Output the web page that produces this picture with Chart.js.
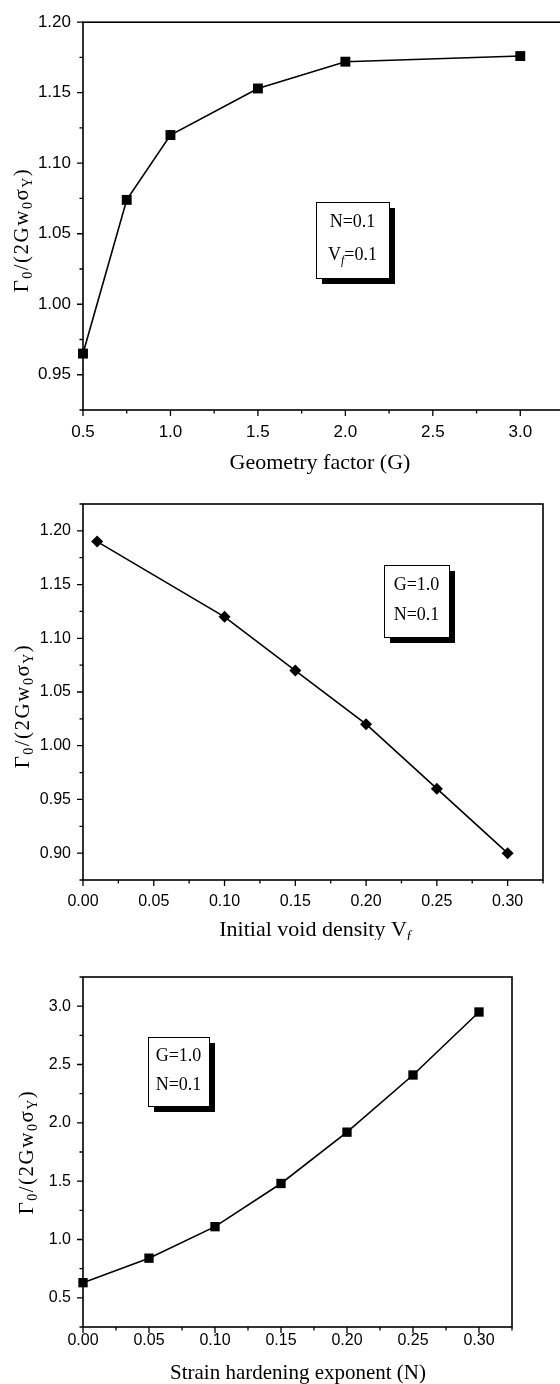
<!DOCTYPE html>
<html>
<head>
<meta charset="utf-8">
<script src="https://cdn.jsdelivr.net/npm/chart.js@4"></script>
<style>
  html, body { margin: 0; padding: 0; background: #fff; }
  body { width: 560px; height: 1384px; overflow: hidden; position: relative; }
  canvas { position: absolute; left: 0; }
</style>
</head>
<body>
<canvas id="c1" width="576" height="480" style="top:0"></canvas>
<canvas id="c2" width="560" height="460" style="top:480px"></canvas>
<canvas id="c3" width="560" height="444" style="top:940px"></canvas>
<script>
// (a) geometry factor
const geomG = [0.5, 0.75, 1.0, 1.5, 2.0, 3.0];
const geomGamma = [0.965, 1.074, 1.12, 1.153, 1.172, 1.176];
// (b) initial void density
const voidVf = [0.01, 0.10, 0.15, 0.20, 0.25, 0.30];
const voidGamma = [1.19, 1.12, 1.07, 1.02, 0.96, 0.90];
// (c) strain hardening exponent
const hardN = [0.00, 0.05, 0.10, 0.15, 0.20, 0.25, 0.30];
const hardGamma = [0.63, 0.84, 1.11, 1.48, 1.92, 2.41, 2.95];

const serif = '"Liberation Serif", "Times New Roman", serif';
const sans = '"Liberation Sans", Arial, sans-serif';

const yTitle = [
  {t: 'Γ'}, {t: '0', sub: true}, {t: '/(2G'}, {t: 'w'}, {t: '0', sub: true},
  {t: 'σ'}, {t: 'Y', sub: true}, {t: ')'}
];

function isMajor(v, major) {
  const r = v / major;
  return Math.abs(r - Math.round(r)) < 1e-6;
}

function richFont(p, size) {
  return (p.it ? 'italic ' : '') + (p.sub ? Math.round(size * 0.65) : size) + 'px ' + serif;
}

function drawRich(ctx, parts, cx, cy, size, spacing) {
  ctx.letterSpacing = (spacing || 0) + 'px';
  let total = 0;
  const widths = parts.map(p => {
    ctx.font = richFont(p, size);
    const w = ctx.measureText(p.t).width;
    total += w;
    return w;
  });
  let x = cx - total / 2;
  ctx.textBaseline = 'middle';
  ctx.textAlign = 'left';
  parts.forEach((p, i) => {
    ctx.font = richFont(p, size);
    ctx.fillText(p.t, x, cy + (p.sub ? size * 0.32 : 0));
    x += widths[i];
  });
  ctx.letterSpacing = '0px';
}

// frame, tick marks, titles and the parameter box
const decorPlugin = {
  id: 'decor',
  beforeDatasetsDraw(chart) {
    const ctx = chart.ctx, a = chart.chartArea;
    const o = chart.options.plugins.decor;
    const sx = chart.scales.x, sy = chart.scales.y;
    ctx.save();
    ctx.strokeStyle = '#000';
    ctx.lineWidth = 1.6;
    ctx.strokeRect(a.left, a.top, a.right - a.left, a.bottom - a.top);
    ctx.lineWidth = 1.3;
    ctx.beginPath();
    sx.ticks.forEach(t => {
      const px = sx.getPixelForValue(t.value);
      const len = isMajor(t.value, o.xMajor) ? 6 : 3.5;
      ctx.moveTo(px, a.bottom);
      ctx.lineTo(px, a.bottom + len);
    });
    sy.ticks.forEach(t => {
      const py = sy.getPixelForValue(t.value);
      const len = isMajor(t.value, o.yMajor) ? 6 : 3.5;
      ctx.moveTo(a.left, py);
      ctx.lineTo(a.left - len, py);
    });
    ctx.stroke();
    ctx.restore();
  },
  afterDraw(chart) {
    const ctx = chart.ctx;
    const o = chart.options.plugins.decor;
    ctx.save();
    ctx.fillStyle = '#000';
    drawRich(ctx, o.xTitle, o.xTitlePos[0], o.xTitlePos[1], o.titleSize);
    ctx.save();
    ctx.translate(o.yTitlePos[0], o.yTitlePos[1]);
    ctx.rotate(-Math.PI / 2);
    drawRich(ctx, yTitle, 0, 0, 21, 1.5);
    ctx.restore();
    // parameter box with drop shadow
    const b = o.box;
    ctx.fillStyle = '#000';
    ctx.fillRect(b.x + 6, b.y + 6, b.w, b.h);
    ctx.fillStyle = '#fff';
    ctx.fillRect(b.x, b.y, b.w, b.h);
    ctx.strokeStyle = '#000';
    ctx.lineWidth = 1;
    ctx.strokeRect(b.x + 0.5, b.y + 0.5, b.w, b.h);
    ctx.fillStyle = '#000';
    b.lines.forEach((ln, i) => drawRich(ctx, ln, b.x + b.w / 2, b.lineY[i], 18));
    ctx.restore();
  }
};

function makeChart(id, cfg) {
  const canvas = document.getElementById(id);
  const H = canvas.height, W = canvas.width;
  return new Chart(canvas, {
    type: 'line',
    data: {
      datasets: [{
        data: cfg.xs.map((x, i) => ({x: x, y: cfg.ys[i]})),
        borderColor: '#000',
        borderWidth: 1.6,
        backgroundColor: '#000',
        pointBackgroundColor: '#000',
        pointBorderColor: '#000',
        pointBorderWidth: 0,
        pointStyle: cfg.pointStyle,
        pointRadius: cfg.radius,
        tension: 0,
        clip: false
      }]
    },
    options: {
      responsive: false,
      animation: false,
      events: [],
      layout: { padding: { left: 0, top: cfg.top, right: W - cfg.right, bottom: 0 } },
      plugins: {
        legend: { display: false },
        tooltip: { enabled: false },
        decor: {
          xMajor: cfg.xMajor, yMajor: cfg.yMajor, titleSize: cfg.titleSize,
          xTitle: cfg.xTitle, xTitlePos: cfg.xTitlePos, yTitlePos: cfg.yTitlePos,
          box: cfg.box
        }
      },
      scales: {
        x: {
          type: 'linear', min: cfg.xMin, max: cfg.xMax,
          grid: { drawOnChartArea: false, drawTicks: false, color: 'rgba(0,0,0,0)' },
          border: { display: false },
          ticks: {
            stepSize: cfg.xStep, autoSkip: false, maxRotation: 0, color: '#000',
            padding: cfg.xPad, font: { family: sans, size: cfg.tickSize },
            callback: v => isMajor(v, cfg.xMajor) ? v.toFixed(cfg.xDec) : ''
          },
          afterFit: s => { s.height = H - cfg.bottom; }
        },
        y: {
          type: 'linear', min: cfg.yMin, max: cfg.yMax,
          grid: { drawOnChartArea: false, drawTicks: false, color: 'rgba(0,0,0,0)' },
          border: { display: false },
          ticks: {
            stepSize: cfg.yStep, autoSkip: false, color: '#000',
            padding: 12, font: { family: sans, size: cfg.tickSize },
            callback: v => isMajor(v, cfg.yMajor) ? v.toFixed(cfg.yDec) : ''
          },
          afterFit: s => { s.width = 83; }
        }
      }
    },
    plugins: [decorPlugin]
  });
}

makeChart('c1', {
  xs: geomG, ys: geomGamma, pointStyle: 'rect', radius: 7,
  top: 17, right: 564, bottom: 410,
  xMin: 0.5, xMax: 3.25, xStep: 0.25, xMajor: 0.5, xDec: 1, xPad: 12,
  yMin: 0.925, yMax: 1.20, yStep: 0.025, yMajor: 0.05, yDec: 2,
  tickSize: 17, titleSize: 22,
  xTitle: [{t: 'Geometry factor (G)'}], xTitlePos: [320, 463], yTitlePos: [22, 230],
  box: { x: 316, y: 202, w: 73, h: 76, lineY: [222, 255],
    lines: [[{t: 'N=0.1'}], [{t: 'V'}, {t: 'f', sub: true, it: true}, {t: '=0.1'}]] }
});

makeChart('c2', {
  xs: voidVf, ys: voidGamma, pointStyle: 'rectRot', radius: 6,
  top: 24, right: 543, bottom: 400,
  xMin: 0, xMax: 0.325, xStep: 0.025, xMajor: 0.05, xDec: 2, xPad: 12,
  yMin: 0.875, yMax: 1.225, yStep: 0.025, yMajor: 0.05, yDec: 2,
  tickSize: 16, titleSize: 22,
  xTitle: [{t: 'Initial void density V'}, {t: 'f', sub: true, it: true}], xTitlePos: [315, 450],
  yTitlePos: [23, 226],
  box: { x: 384, y: 85, w: 65, h: 72, lineY: [105, 135],
    lines: [[{t: 'G=1.0'}], [{t: 'N=0.1'}]] }
});

makeChart('c3', {
  xs: hardN, ys: hardGamma, pointStyle: 'rect', radius: 6.6,
  top: 37, right: 512, bottom: 387,
  xMin: 0, xMax: 0.325, xStep: 0.025, xMajor: 0.05, xDec: 2, xPad: 4,
  yMin: 0.25, yMax: 3.25, yStep: 0.25, yMajor: 0.5, yDec: 1,
  tickSize: 16, titleSize: 21,
  xTitle: [{t: 'Strain hardening exponent (N)'}], xTitlePos: [298, 433],
  yTitlePos: [27, 212],
  box: { x: 148, y: 97, w: 61, h: 69, lineY: [116, 145],
    lines: [[{t: 'G=1.0'}], [{t: 'N=0.1'}]] }
});
</script>
</body>
</html>
